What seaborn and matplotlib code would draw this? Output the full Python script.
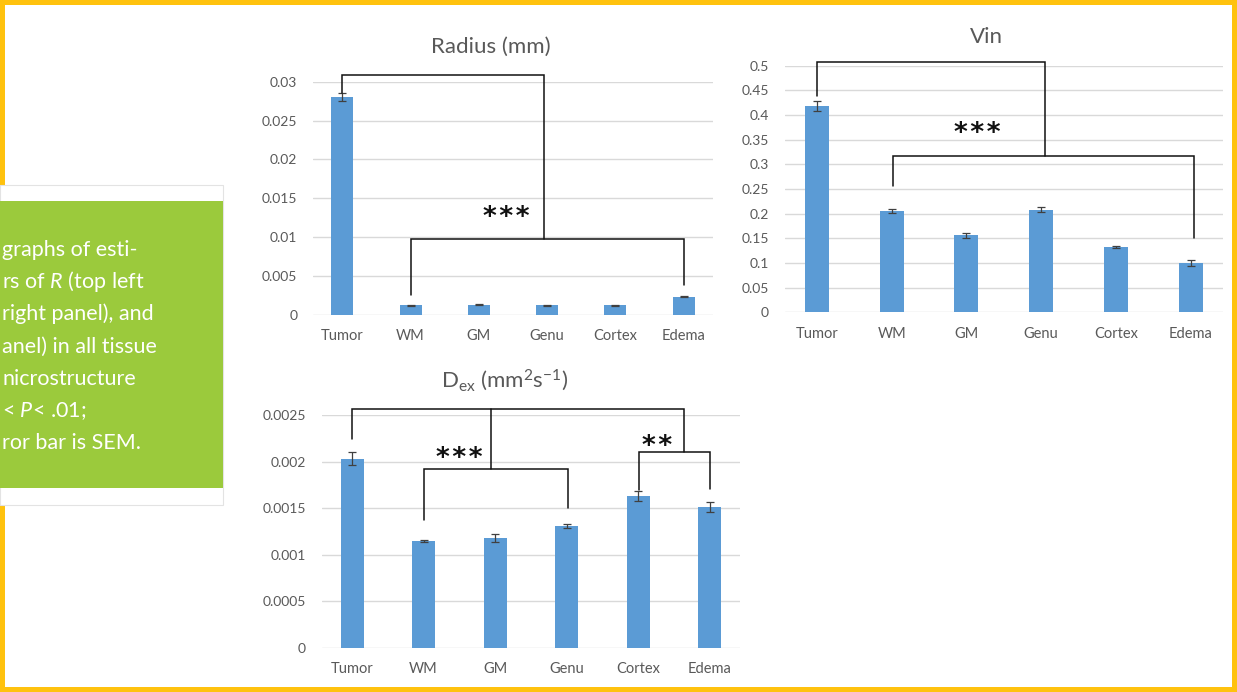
import numpy as np
import pandas as pd
import matplotlib
matplotlib.use("Agg")
import matplotlib.pyplot as plt
from matplotlib.patches import Rectangle
import seaborn as sns

# DATA
tissues = ["Tumor", "WM", "GM", "Genu", "Cortex", "Edema"]

radius_mean = [0.0280, 0.0012, 0.0013, 0.0012, 0.0012, 0.0023]
radius_sem = [0.0005, 0.00003, 0.00005, 0.00003, 0.00003, 0.00005]
radius_ticks = [0, 0.005, 0.01, 0.015, 0.02, 0.025, 0.03]

vin_mean = [0.419, 0.205, 0.156, 0.208, 0.132, 0.100]
vin_sem = [0.010, 0.004, 0.005, 0.005, 0.002, 0.007]
vin_ticks = [0, 0.05, 0.1, 0.15, 0.2, 0.25, 0.3, 0.35, 0.4, 0.45, 0.5]

dex_mean = [0.00203, 0.00115, 0.00118, 0.00131, 0.00163, 0.00151]
dex_sem = [0.00007, 0.00001, 0.00004, 0.00002, 0.00005, 0.00005]
dex_ticks = [0, 0.0005, 0.001, 0.0015, 0.002, 0.0025]

# significance brackets: (x in category units, y in data units)
radius_brackets = [
    ([0, 0, 2.95, 2.95], [0.0286, 0.0309, 0.0309, 0.0098]),
    ([1, 1, 5, 5], [0.0025, 0.0098, 0.0098, 0.0038]),
]
radius_stars = [(2.4, 0.0125, "***")]

vin_brackets = [
    ([0, 0, 3.05, 3.05], [0.4385, 0.5074, 0.5074, 0.3175]),
    ([1.02, 1.02, 5.04, 5.04], [0.2567, 0.3175, 0.3175, 0.150]),
]
vin_stars = [(2.15, 0.361, "***")]

dex_brackets = [
    ([0, 0, 4.64, 4.64], [0.00224, 0.002561, 0.002561, 0.0021]),
    ([1.94, 1.94], [0.002561, 0.001917]),
    ([1, 1, 3.02, 3.02], [0.001372, 0.001917, 0.001917, 0.001505]),
    ([4.01, 4.01, 5.01, 5.01], [0.001694, 0.0021, 0.0021, 0.001705]),
]
dex_stars = [(1.5, 0.00203, "***"), (4.26, 0.00216, "**")]

caption_lines = [
    "graphs of esti-",
    r"rs of $\mathit{R}$ (top left",
    "right panel), and",
    "anel) in all tissue",
    "nicrostructure",
    r"< $\mathit{P}$< .01;",
    "ror bar is SEM.",
]

# STYLE
BAR = "#5B9BD5"
GRID = "#D9D9D9"
TXT = "#595959"
GOLD = "#FFC20E"
GREEN = "#9BCA3C"

sns.set_style("white")
plt.rcParams["font.family"] = ["Lato", "DejaVu Sans"]
plt.rcParams["mathtext.fontset"] = "custom"
plt.rcParams["mathtext.rm"] = "Lato"
plt.rcParams["mathtext.it"] = "Lato:italic"

W, H = 1237, 692


def fx(px):
    return px / W


def fy(py):
    return 1 - py / H


def draw_panel(ax, means, sems, ticks, brackets, stars):
    df = pd.DataFrame({"tissue": tissues, "value": means})
    sns.barplot(data=df, x="tissue", y="value", order=tissues, color=BAR,
                width=0.32, saturation=1, errorbar=None, linewidth=0,
                ax=ax, zorder=2)
    xs = np.arange(len(tissues))
    ax.errorbar(xs, means, yerr=sems, fmt="none", ecolor="#404040",
                elinewidth=0.9, capsize=2.8, capthick=0.9, zorder=3)
    ax.set_ylim(ticks[0], ticks[-1])
    ax.set_yticks(ticks)
    ax.set_yticklabels([f"{t:g}" for t in ticks])
    ax.grid(axis="y", color=GRID, lw=1, zorder=0)
    ax.grid(axis="x", visible=False)
    ax.set_axisbelow(True)
    for s in ax.spines.values():
        s.set_visible(False)
    ax.tick_params(axis="y", length=0, pad=11.5, labelsize=10, labelcolor=TXT)
    ax.tick_params(axis="x", length=0, pad=10.5, labelsize=10.5, labelcolor=TXT)
    ax.set_xlabel("")
    ax.set_ylabel("")
    for bx, by in brackets:
        ax.plot(bx, by, color="#111111", lw=1.1, clip_on=False, zorder=4,
                solid_joinstyle="miter")
    for sx, sy, label in stars:
        ax.text(sx, sy, "\u200a".join(label), ha="center", va="center",
                fontsize=19, fontweight="bold", color="#111111",
                family="DejaVu Sans", zorder=5)


fig = plt.figure(figsize=(W / 100, H / 100), dpi=100)

# gold frame
frame = [(0, 0, W, 5), (0, H - 5, W, 5), (0, 0, 5, H), (W - 5, 0, 5, H)]
for x0, y0, w, h in frame:
    fig.add_artist(Rectangle((fx(x0), fy(y0 + h)), w / W, h / H,
                             transform=fig.transFigure, color=GOLD, lw=0))

# caption box (cropped on the left in the original layout)
fig.add_artist(Rectangle((fx(0), fy(505)), 222.7 / W, 320 / H,
                         transform=fig.transFigure, facecolor="white",
                         edgecolor="#E3E3E3", lw=0.8))
fig.add_artist(Rectangle((fx(0), fy(488.3)), 222.7 / W, 287.6 / H,
                         transform=fig.transFigure, color=GREEN, lw=0))
for i, line in enumerate(caption_lines):
    fig.text(fx(2), fy(256 + i * 32.2), line, ha="left", va="baseline",
             fontsize=15.5, color="white")

ax_r = fig.add_axes([fx(313.3), fy(314.7), 399.4 / W, 233.0 / H])
ax_v = fig.add_axes([fx(785.0), fy(312.3), 437.7 / W, 246.6 / H])
ax_d = fig.add_axes([fx(321.7), fy(647.7), 418.3 / W, 232.7 / H])

draw_panel(ax_r, radius_mean, radius_sem, radius_ticks, radius_brackets, radius_stars)
draw_panel(ax_v, vin_mean, vin_sem, vin_ticks, vin_brackets, vin_stars)
draw_panel(ax_d, dex_mean, dex_sem, dex_ticks, dex_brackets, dex_stars)

fig.text(fx(490.7), fy(53.3), "Radius (mm)", ha="center", va="baseline",
         fontsize=16, color=TXT)
fig.text(fx(986.7), fy(42.7), "Vin", ha="center", va="baseline",
         fontsize=16, color=TXT)
fig.text(fx(505), fy(387.3), r"D$_{\rm ex}$ (mm$^{2}$s$^{-1}$)", ha="center",
         va="baseline", fontsize=16, color=TXT)

fig.savefig("out.png", dpi=100)
